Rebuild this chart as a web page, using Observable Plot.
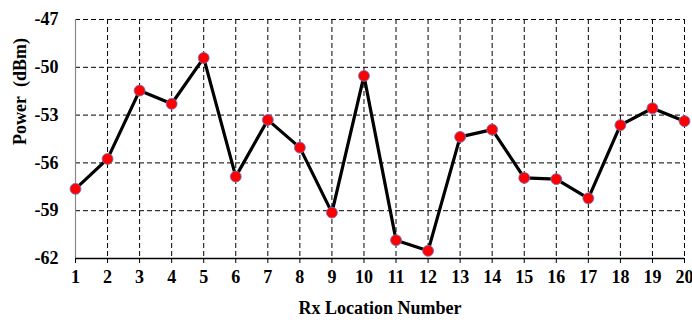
<!DOCTYPE html>
<html>
<head>
<meta charset="utf-8">
<script src="https://cdn.jsdelivr.net/npm/d3@7"></script>
<script src="https://cdn.jsdelivr.net/npm/@observablehq/plot@0.6"></script>
<style>
  html, body { margin: 0; padding: 0; background: #fff; }
  #chart svg, #chart svg text { font-family: "Liberation Serif", "Times New Roman", serif !important; font-weight: bold; }
</style>
</head>
<body>
<div id="chart"></div>
<script>
const locations = [1,2,3,4,5,6,7,8,9,10,11,12,13,14,15,16,17,18,19,20];
const power = [-57.63,-55.75,-51.46,-52.29,-49.41,-56.86,-53.30,-55.04,-59.12,-50.54,-60.85,-61.52,-54.37,-53.91,-56.94,-57.02,-58.22,-53.63,-52.57,-53.38];
const yTicks = [-62,-59,-56,-53,-50,-47];
const xLabel = "Rx Location Number";
const yLabel = "Power\u00a0\u00a0(dBm)";

const data = locations.map((x, i) => ({x, y: power[i]}));

const chart = Plot.plot({
  width: 692,
  height: 322,
  marginLeft: 75,
  marginRight: 8,
  marginTop: 19,
  marginBottom: 64,
  style: {fontSize: "18px", color: "#000", background: "#fff"},
  x: {domain: [1, 20], ticks: locations},
  y: {domain: [-62, -47], ticks: yTicks},
  marks: [
    Plot.gridX(locations, {stroke: "#000", strokeOpacity: 1, strokeDasharray: "5,3", strokeWidth: 1}),
    Plot.gridY(yTicks, {stroke: "#000", strokeOpacity: 1, strokeDasharray: "5,3", strokeWidth: 1}),
    Plot.axisX(locations, {tickSize: 5, tickPadding: 7, label: null, tickFormat: d => d}),
    Plot.axisY(yTicks, {tickSize: 0, tickPadding: 17, label: null, tickFormat: d => String(d).replace("−", "-")}),
    Plot.ruleX([1], {stroke: "#888", strokeWidth: 1.2}),
    Plot.ruleY([-62], {stroke: "#000", strokeWidth: 1.5}),
    Plot.line(data, {x: "x", y: "y", stroke: "#000", strokeWidth: 3.2}),
    Plot.dot(data, {x: "x", y: "y", r: 5.5, fill: "#ff0000", stroke: "#6a7fd0", strokeWidth: 0.8}),
    Plot.text([xLabel], {frameAnchor: "bottom", dy: 55, text: d => d, fontSize: 18}),
    Plot.text([yLabel], {frameAnchor: "left", dx: -55, dy: 6, rotate: -90, text: d => d, fontSize: 18})
  ]
});
document.getElementById("chart").appendChild(chart);
</script>
</body>
</html>
